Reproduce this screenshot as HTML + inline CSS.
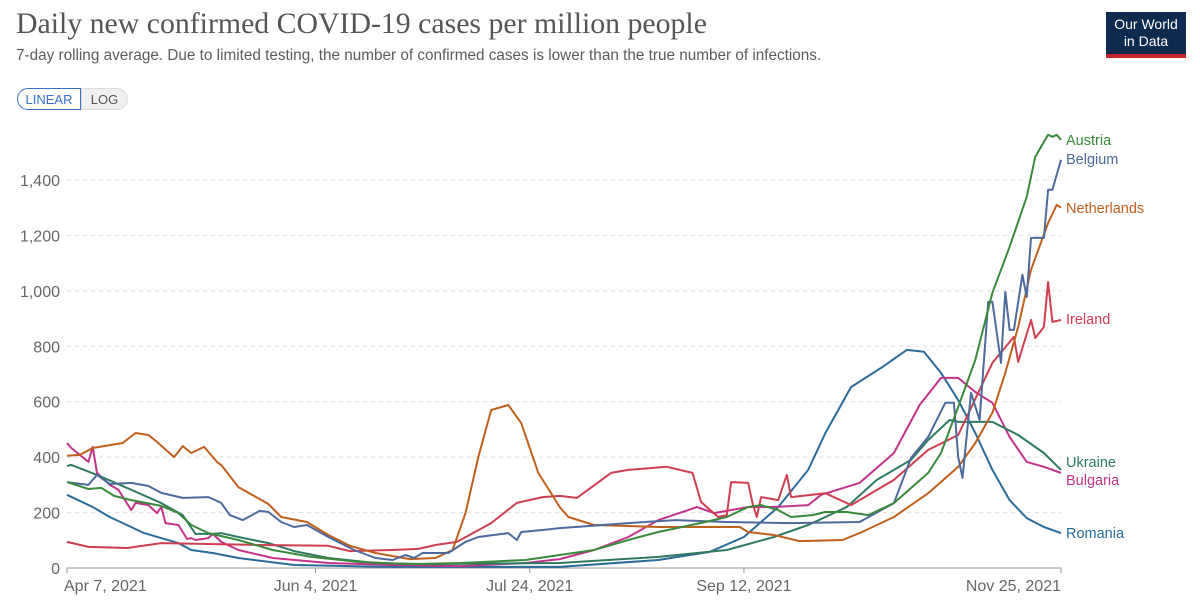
<!DOCTYPE html>
<html><head><meta charset="utf-8"><style>
body{margin:0;width:1200px;height:610px;background:#fff;overflow:hidden;font-family:"Liberation Sans",sans-serif;position:relative}
#title{position:absolute;left:16px;top:7px;font-family:"Liberation Serif",serif;font-size:29.8px;color:#555}
#sub{position:absolute;left:16px;top:47px;font-size:15.3px;color:#5b5b5b}
#logo{position:absolute;left:1106px;top:12px;width:80px;height:46px;background:#0d2a4f;color:#fff;font-size:14px;text-align:center;line-height:17px;padding-top:4px;box-sizing:border-box;border-bottom:4px solid #c4262e}
.btn{position:absolute;top:88px;height:22px;font-size:13px;line-height:22px;text-align:center;box-sizing:border-box}
svg{position:absolute;left:0;top:0}
</style></head><body>
<div id="title">Daily new confirmed COVID-19 cases per million people</div>
<div id="sub">7-day rolling average. Due to limited testing, the number of confirmed cases is lower than the true number of infections.</div>
<div id="logo">Our World<br>in Data</div>
<div class="btn" style="left:17px;width:64px;border:1.5px solid #3b6ec7;border-radius:11px 0 0 11px;color:#3b6ec7;background:#fff">LINEAR</div>
<div class="btn" style="left:81px;width:47px;border:1px solid #ddd;border-radius:0 11px 11px 0;color:#555;background:#f0f0f0">LOG</div>
<svg id="chart" width="1200" height="610"></svg>
<script>
const yTicks=[0,200,400,600,800,1000,1200,1400];
const xTickDays=[0,58,108,158,232];
const xTickLabels=["Apr 7, 2021","Jun 4, 2021","Jul 24, 2021","Sep 12, 2021","Nov 25, 2021"];
const seriesNames=["Austria","Belgium","Netherlands","Ireland","Ukraine","Bulgaria","Romania"];
const seriesColors=["#3a8a3c","#4c6a9c","#c15f1d","#cf3e52","#2f7a60","#c4338a","#2a6b99"];
const labelY=[140,159,208,319,462,480,533];
const austriaDays=[0,5,8,11,15,22,26,29,33,40,48,57,68,80,92,107,115,123,131,138,149,154,159,162,166,169,174,177,182,187,193,201,204,208,212,216,220,224,226,229,230,231,232];
const austriaVals=[310,285,289,260,245,224,198,155,126,101,65,40,22,14,18,29,47,65,101,130,166,184,220,227,209,184,191,202,202,191,234,343,415,581,751,993,1159,1339,1484,1563,1556,1563,1545];
const belgiumDays=[0,5,7,10,15,19,22,27,33,36,38,41,45,47,50,53,56,61,67,72,76,79,81,83,89,93,96,103,105,106,111,115,131,142,154,169,185,193,197,201,205,207,208,209,211,213,215,216,218,219,220,221,223,224,225,228,229,230,232];
const belgiumVals=[310,300,336,303,307,296,271,253,256,235,191,173,206,202,166,148,155,112,65,36,29,47,36,54,54,94,112,126,101,130,137,144,162,173,166,162,166,234,397,473,596,596,401,325,632,534,960,960,740,996,859,859,1058,978,1191,1191,1365,1365,1473];
const netherlandsDays=[0,3,6,13,16,19,21,25,27,29,32,35,36,40,47,50,56,61,66,72,80,86,90,93,96,99,103,106,110,115,117,123,138,157,159,165,171,181,185,193,201,208,212,216,219,222,225,229,231,232];
const netherlandsVals=[405,408,433,451,487,480,455,400,440,415,437,383,372,292,231,184,166,119,80,54,32,36,65,198,400,570,588,523,343,220,184,155,148,148,130,119,97,101,126,184,270,365,451,560,704,870,1076,1245,1310,1300];
const irelandDays=[0,5,14,22,45,61,66,76,82,86,91,99,105,111,115,119,127,131,140,146,148,152,154,155,159,160,161,162,166,168,169,177,183,193,201,208,216,221,222,225,226,228,229,230,232];
const irelandVals=[94,76,72,90,83,80,61,65,69,83,94,162,235,256,260,253,343,354,365,343,238,184,191,310,307,234,184,256,245,336,256,270,227,318,426,480,740,834,744,895,830,870,1032,888,895];
const ukraineDays=[0,1,7,14,22,27,30,34,36,40,47,53,61,72,84,115,138,154,165,173,182,189,197,201,206,208,216,222,228,232];
const ukraineVals=[368,372,336,289,234,191,123,123,126,112,90,61,36,18,14,18,40,65,112,155,220,318,390,462,534,527,527,480,415,354];
const bulgariaDays=[0,1,5,6,7,10,12,15,16,19,21,22,23,26,28,29,30,33,34,36,40,48,61,76,92,107,115,123,131,138,145,147,151,159,165,173,176,185,193,199,204,208,212,216,220,224,228,232];
const bulgariaVals=[451,433,383,437,343,300,282,209,235,227,198,220,162,155,105,108,101,108,123,94,65,36,18,11,7,18,32,65,112,173,209,220,198,220,220,227,264,307,415,588,686,686,635,596,473,383,365,343];
const romaniaDays=[0,6,10,18,26,29,34,40,53,76,99,115,138,150,158,166,173,177,183,190,196,200,204,208,212,216,220,224,228,232];
const romaniaVals=[264,220,184,126,90,65,54,36,11,4,4,4,29,58,112,220,354,487,653,722,787,780,704,606,487,354,245,180,148,126];
const daysList=[austriaDays,belgiumDays,netherlandsDays,irelandDays,ukraineDays,bulgariaDays,romaniaDays];
const valsList=[austriaVals,belgiumVals,netherlandsVals,irelandVals,ukraineVals,bulgariaVals,romaniaVals];
const X0=67,X1=1061,Y0=568,Y1=180;
const xScale=d=>X0+(X1-X0)*d/232;
const yScale=v=>Y0-(Y0-Y1)*v/1400;
const svg=document.getElementById('chart');const NS='http://www.w3.org/2000/svg';
function mk(t,a){const e=document.createElementNS(NS,t);for(const k in a)e.setAttribute(k,a[k]);svg.appendChild(e);return e;}
yTicks.forEach(v=>{
 if(v>0){const g=mk('line',{x1:X0,x2:X1,y1:yScale(v),y2:yScale(v),stroke:'#ddd','stroke-dasharray':'4 4'});
 
 }
 const t=mk('text',{x:60,y:yScale(v)+6,'text-anchor':'end','font-size':16,fill:'#666','font-family':'Liberation Sans'});t.textContent=v.toLocaleString('en-US');
 
 
});
const ax=mk('line',{x1:X0,x2:X1,y1:Y0,y2:Y0,stroke:'#999'});


xTickDays.forEach((d,i)=>{
 const tk=mk('line',{x1:xScale(d),x2:xScale(d),y1:Y0,y2:Y0+5,stroke:'#999'});
 
 
 const anchor=i==0?'start':(i==xTickDays.length-1?'end':'middle');
 const t=mk('text',{x:xScale(d)+(i==0?-3:0),y:591,'text-anchor':anchor,'font-size':16,fill:'#666','font-family':'Liberation Sans'});t.textContent=xTickLabels[i];
 
 
});
for(let s=seriesNames.length-1;s>=0;s--){
 const pts=daysList[s].map((d,i)=>xScale(d).toFixed(1)+','+yScale(valsList[s][i]).toFixed(1)).join(' ');
 const p=mk('polyline',{points:pts,fill:'none',stroke:seriesColors[s],'stroke-width':2,'stroke-linejoin':'round'});
 
 
}
seriesNames.forEach((n,s)=>{
 const t=mk('text',{x:1066,y:labelY[s]+5,'font-size':14.5,fill:seriesColors[s],'font-family':'Liberation Sans'});t.textContent=n;
 
 
});
</script>
</body></html>
